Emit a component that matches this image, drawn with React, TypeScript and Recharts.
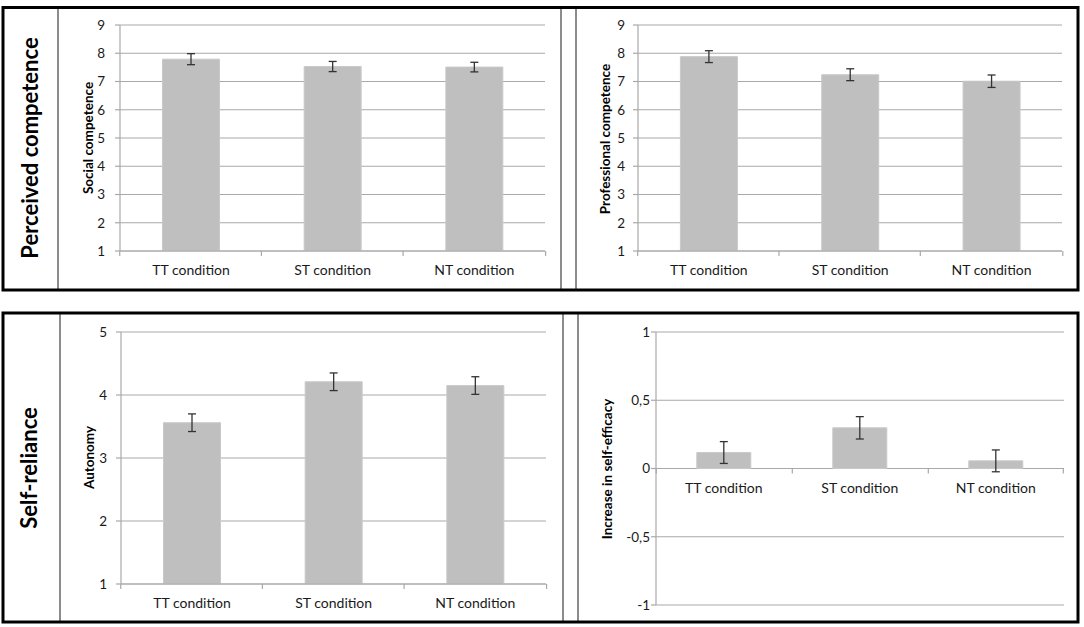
import React from 'react';
import { BarChart, Bar, XAxis, YAxis, CartesianGrid, ErrorBar, LabelList } from 'recharts';

// ---------- data ----------
const conditions = ['TT condition', 'ST condition', 'NT condition'];

const socialValues = [7.79, 7.53, 7.51];
const socialErrors = [0.195, 0.18, 0.17];

const professionalValues = [7.88, 7.24, 7.01];
const professionalErrors = [0.21, 0.21, 0.22];

const autonomyValues = [3.56, 4.21, 4.15];
const autonomyErrors = [0.14, 0.14, 0.14];

const selfEfficacyValues = [0.117, 0.298, 0.056];
const selfEfficacyErrors = [0.08, 0.082, 0.08];

const ticksNine = [1, 2, 3, 4, 5, 6, 7, 8, 9];
const ticksFive = [1, 2, 3, 4, 5];
const ticksEfficacy = [-1, -0.5, 0, 0.5, 1];

const build = (values: number[], errors: number[]) =>
  conditions.map((name, i) => ({ name, value: values[i], err: errors[i] }));

// ---------- style ----------
const FONT = 'Lato, "Open Sans", sans-serif';
const GRID = '#a9a9a9';
const BAR = '#bfbfbf';
const TEXT = '#1a1a1a';
const BAR_FRACTION = 0.4; // barCategoryGap 30%

const commaFmt = (v: number) => String(v).replace('.', ',');

const makeAxisMarks = (count: number) => (props: any) => {
  const vb = props.viewBox && props.viewBox.width !== undefined ? props.viewBox : props;
  const x = Number(vb.x);
  const y = Number(vb.y);
  const width = Number(vb.width);
  const height = Number(vb.height);
  const index = props.index;
  const band = width / BAR_FRACTION;
  const cx = x + width / 2;
  const base = y + height;
  const left = cx - band / 2;
  const right = cx + band / 2;
  return (
    <g>
      <line x1={left} x2={left} y1={base} y2={base + 5} stroke={GRID} strokeWidth={1.2} />
      {index === count - 1 && (
        <line x1={right} x2={right} y1={base} y2={base + 5} stroke={GRID} strokeWidth={1.2} />
      )}
      <text x={cx} y={base + 24} textAnchor="middle" fontFamily={FONT} fontSize={14} fill={TEXT}>
        {props.value}
      </text>
    </g>
  );
};

type PanelProps = {
  data: { name: string; value: number; err: number }[];
  ticks: number[];
  domain: [number, number];
  plotL: number;
  plotR: number;
  plotT: number;
  plotB: number;
  tickMargin: number;
  zeroAxis?: boolean;
  fmt?: (v: number) => string;
};

const Y_W = 50;
const M_TOP = 10;
const M_RIGHT = 6;
const X_H = 36;

function Panel({ data, ticks, domain, plotL, plotR, plotT, plotB, tickMargin, zeroAxis, fmt }: PanelProps) {
  const width = Y_W + (plotR - plotL) + M_RIGHT;
  const height = M_TOP + (plotB - plotT) + X_H;
  return (
    <div style={{ position: 'absolute', left: plotL - Y_W, top: plotT - M_TOP, width, height }}>
      <BarChart
        width={width}
        height={height}
        data={data}
        margin={{ top: M_TOP, right: M_RIGHT, bottom: zeroAxis ? X_H : 0, left: 0 }}
        barCategoryGap="30%"
      >
        <CartesianGrid vertical={false} stroke={GRID} strokeWidth={1.2} />
        <XAxis
          dataKey="name"
          hide={!!zeroAxis}
          height={X_H}
          tick={false}
          tickLine={false}
          axisLine={{ stroke: GRID, strokeWidth: 1.2 }}
        />
        <YAxis
          type="number"
          domain={domain}
          ticks={ticks}
          interval={0}
          allowDataOverflow
          width={Y_W}
          tickSize={5}
          tickMargin={tickMargin}
          axisLine={{ stroke: GRID, strokeWidth: 1.2 }}
          tickLine={{ stroke: GRID, strokeWidth: 1.2 }}
          tick={{ fill: TEXT, fontSize: 13.5, fontFamily: FONT }}
          tickFormatter={fmt}
        />
        <Bar dataKey="value" fill={BAR} stroke="#c9c9c9" strokeWidth={1} isAnimationActive={false}>
          <ErrorBar dataKey="err" width={4} stroke="#333333" strokeWidth={1.3} />
          <LabelList dataKey="name" content={makeAxisMarks(data.length)} />
        </Bar>
      </BarChart>
    </div>
  );
}

const rotText = (x: number, y: number, text: string, size: number) => (
  <text
    x={x}
    y={y}
    transform={`rotate(-90 ${x} ${y})`}
    textAnchor="middle"
    dominantBaseline="central"
    fontFamily={FONT}
    fontWeight={700}
    fontSize={size}
    fill="#000"
  >
    {text}
  </text>
);

export default function App() {
  return (
    <div style={{ position: 'relative', width: 1084, height: 627, background: '#fff', overflow: 'hidden' }}>
      <style>{'body{margin:0}'}</style>

      <Panel
        data={build(socialValues, socialErrors)}
        ticks={ticksNine}
        domain={[1, 9]}
        plotL={120}
        plotR={545}
        plotT={25}
        plotB={251}
        tickMargin={10}
      />
      <Panel
        data={build(professionalValues, professionalErrors)}
        ticks={ticksNine}
        domain={[1, 9]}
        plotL={638}
        plotR={1062}
        plotT={25}
        plotB={251}
        tickMargin={8}
      />
      <Panel
        data={build(autonomyValues, autonomyErrors)}
        ticks={ticksFive}
        domain={[1, 5]}
        plotL={121}
        plotR={546}
        plotT={332}
        plotB={584}
        tickMargin={9}
      />
      <Panel
        data={build(selfEfficacyValues, selfEfficacyErrors)}
        ticks={ticksEfficacy}
        domain={[-1, 1]}
        plotL={656}
        plotR={1064}
        plotT={332}
        plotB={605}
        tickMargin={1}
        zeroAxis
        fmt={commaFmt}
      />

      <svg
        width={1084}
        height={627}
        style={{ position: 'absolute', left: 0, top: 0, pointerEvents: 'none' }}
      >
        {/* box separators */}
        <line x1={58} x2={58} y1={8} y2={290} stroke="#8c8c8c" strokeWidth={2} />
        <line x1={561} x2={561} y1={8} y2={290} stroke="#8c8c8c" strokeWidth={2} />
        <line x1={576} x2={576} y1={8} y2={290} stroke="#8c8c8c" strokeWidth={2} />
        <line x1={60} x2={60} y1={313} y2={622} stroke="#8c8c8c" strokeWidth={2} />
        <line x1={563} x2={563} y1={313} y2={622} stroke="#8c8c8c" strokeWidth={2} />
        <line x1={578} x2={578} y1={313} y2={622} stroke="#8c8c8c" strokeWidth={2} />
        {/* outer boxes */}
        <rect x={3} y={7.5} width={1075} height={282.5} fill="none" stroke="#000" strokeWidth={3} />
        <rect x={3} y={313} width={1075} height={309} fill="none" stroke="#000" strokeWidth={3} />

        {/* row labels */}
        {rotText(29, 148, 'Perceived competence', 22)}
        {rotText(28.5, 468, 'Self-reliance', 22)}

        {/* axis titles */}
        {rotText(88, 138, 'Social competence', 13.5)}
        {rotText(605, 139, 'Professional competence', 13.5)}
        {rotText(89, 457.5, 'Autonomy', 13.5)}
        {rotText(606.5, 469, 'Increase in self-efficacy', 13.5)}
      </svg>
    </div>
  );
}
